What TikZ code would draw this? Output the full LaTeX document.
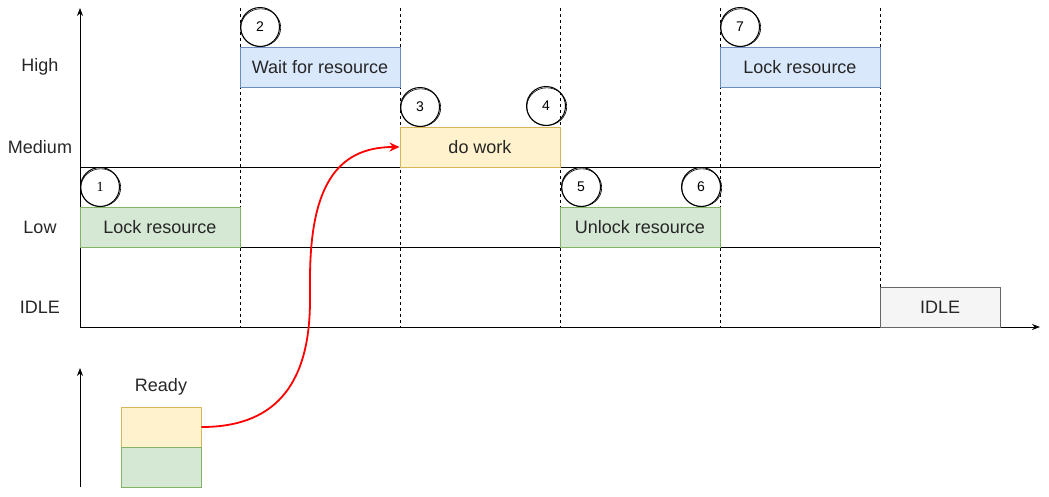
\documentclass[tikz,border=0pt]{standalone}
\usepackage{fontspec}
\setmainfont{Liberation Sans}
\newfontfamily\serifnum{Liberation Serif}
\usetikzlibrary{arrows.meta}

\definecolor{blueF}{HTML}{DAE8FC}
\definecolor{blueD}{HTML}{6C8EBF}
\definecolor{yelF}{HTML}{FFF2CC}
\definecolor{yelD}{HTML}{D6B656}
\definecolor{grnF}{HTML}{D5E8D4}
\definecolor{grnD}{HTML}{82B366}
\definecolor{gryF}{HTML}{F5F5F5}
\definecolor{gryD}{HTML}{666666}

\begin{document}
\begin{tikzpicture}[
		x=1pt, y=-1pt,
		txt/.style={font=\fontsize{18}{21}\selectfont, text=black!85},
		box/.style={txt, draw, line width=1pt, minimum width=160pt, minimum height=40pt, inner sep=0pt},
		hbox/.style={box, fill=blueF, draw=blueD},
		mbox/.style={box, fill=yelF, draw=yelD},
		lbox/.style={box, fill=grnF, draw=grnD},
		ibox/.style={box, fill=gryF, draw=gryD, minimum width=120pt},
		num/.style={circle, draw, line width=1pt, minimum size=39pt, inner sep=0pt, font=\fontsize{14}{16}\selectfont},
		axis/.style={line width=1pt, -{Stealth[length=8pt,width=6pt]}},
		grid/.style={line width=0.8pt, dash pattern=on 3pt off 3pt},
		flow/.style={red, line width=1.8pt, -{Stealth[length=10pt,width=9pt]}}
	]
	\useasboundingbox (0,0) rectangle (1049,496);

	% time slots and priority levels
	\foreach \x in {240,400,560,720,880}
		\draw[grid] (\x,8) -- (\x,327);
	\draw[line width=1pt] (80,167) -- (880,167);
	\draw[line width=1pt] (80,247) -- (880,247);

	\coordinate (o) at (80,327);
	\coordinate (ytop) at (80,8);
	\coordinate (xend) at (1040,327);
	\draw[axis] (o) -- (ytop);
	\draw[axis] (o) -- (xend);

	\node[txt] (high) at (40,67) {High};
	\node[txt] (med) at (40,147) {Medium};
	\node[txt] (low) at (40,227) {Low};
	\node[txt] (idle) at (40,307) {IDLE};

	% tasks
	\node[lbox] (lock1) at (160,227) {Lock resource};
	\node[hbox] (wait) at (320,67) {Wait for resource};
	\node[mbox] (work) at (480,147) {do work};
	\node[lbox] (unlock) at (640,227) {Unlock resource};
	\node[hbox] (lock2) at (800,67) {Lock resource};
	\node[ibox] (idlebox) at (940,307) {IDLE};

	% steps
	\node[num] (c1) at (100,187) {\serifnum 1};
	\node[num] (c2) at (260,27) {2};
	\node[num] (c3) at (420,107) {3};
	\node[num] (c4) at (546,106) {4};
	\node[num] (c5) at (581,187) {5};
	\node[num] (c6) at (701,187) {6};
	\node[num] (c7) at (740,27) {7};
	\foreach \n in {c1,c2,c3,c4,c5,c6,c7}
		\draw[line width=0.6pt] ([shift={(0.8,0.6)}]\n.center) ellipse [x radius=19.9, y radius=18.8];

	% ready queue
	\coordinate (qbot) at (80,487);
	\coordinate (qtop) at (80,368);
	\draw[axis] (qbot) -- (qtop);
	\node[txt] (ready) at (161,387) {Ready};
	\node[box, fill=yelF, draw=yelD, minimum width=80pt] (readyT) at (161,427) {};
	\node[box, fill=grnF, draw=grnD, minimum width=80pt] (readyB) at (161,467) {};

	\draw[flow] (readyT.east) .. controls +(69,0) and +(0,90) .. (310,300)
		-- (310,280) .. controls +(0,-90) and +(-65,0) .. (work.west);
\end{tikzpicture}
\end{document}
